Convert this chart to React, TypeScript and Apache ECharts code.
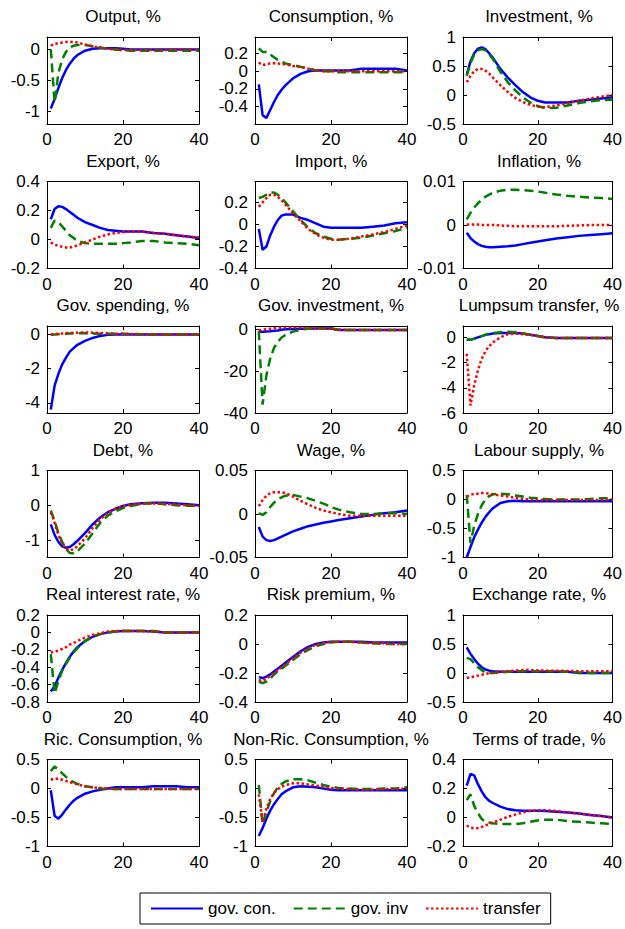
import React, { useEffect, useRef } from "react";
import * as echarts from "echarts";

// ---------- data ----------
const T = [1, 2, 3, 4, 5, 6, 7, 8, 10, 12, 14, 16, 18, 20, 22, 25, 28, 31, 34, 37, 40];
const X_TICKS = [0, 20, 40];
const SERIES_NAMES = ["gov. con.", "gov. inv", "transfer"];

const outputCon = [-0.95, -0.8, -0.62, -0.46, -0.33, -0.23, -0.15, -0.09, -0.02, 0.01, 0.02, 0.02, 0.02, 0.01, 0, 0, 0, 0, 0, 0, 0];
const outputInv = [0, -0.85, -0.38, -0.16, -0.04, 0.03, 0.06, 0.07, 0.07, 0.05, 0.03, 0.01, 0, -0.01, -0.02, -0.02, -0.02, -0.02, -0.02, -0.02, -0.02];
const outputTr = [0.06, 0.09, 0.1, 0.11, 0.12, 0.12, 0.12, 0.11, 0.08, 0.05, 0.03, 0.01, 0, -0.01, -0.01, -0.01, -0.01, -0.01, 0, 0, 0];

const consCon = [-0.15, -0.5, -0.53, -0.44, -0.35, -0.27, -0.21, -0.16, -0.08, -0.03, 0, 0.01, 0.01, 0.01, 0.01, 0.01, 0.03, 0.03, 0.03, 0.03, 0.01];
const consInv = [0.26, 0.22, 0.22, 0.19, 0.16, 0.13, 0.11, 0.09, 0.07, 0.05, 0.03, 0.01, 0, 0, -0.01, -0.01, -0.01, -0.01, -0.01, -0.01, -0.01];
const consTr = [0.1, 0.07, 0.08, 0.09, 0.09, 0.09, 0.08, 0.08, 0.06, 0.05, 0.03, 0.01, 0, 0, 0, 0, 0, 0, 0, 0, 0];

const investCon = [0.35, 0.58, 0.72, 0.8, 0.82, 0.79, 0.72, 0.64, 0.45, 0.3, 0.17, 0.05, -0.04, -0.1, -0.13, -0.13, -0.13, -0.1, -0.08, -0.06, -0.04];
const investInv = [0.33, 0.55, 0.7, 0.77, 0.79, 0.77, 0.7, 0.62, 0.4, 0.22, 0.08, -0.04, -0.13, -0.19, -0.23, -0.22, -0.18, -0.14, -0.11, -0.09, -0.08];
const investTr = [0.22, 0.33, 0.41, 0.45, 0.45, 0.42, 0.37, 0.3, 0.17, 0.05, -0.05, -0.12, -0.17, -0.2, -0.21, -0.18, -0.14, -0.1, -0.06, -0.03, 0];

const exportCon = [0.14, 0.21, 0.23, 0.225, 0.21, 0.19, 0.17, 0.15, 0.12, 0.1, 0.08, 0.065, 0.06, 0.055, 0.055, 0.055, 0.045, 0.04, 0.03, 0.02, 0.01];
const exportInv = [0.08, 0.13, 0.12, 0.09, 0.06, 0.03, 0.01, -0.01, -0.025, -0.03, -0.03, -0.03, -0.03, -0.025, -0.02, -0.01, -0.01, -0.02, -0.025, -0.03, -0.04];
const exportTr = [-0.02, -0.035, -0.045, -0.05, -0.055, -0.055, -0.05, -0.04, -0.02, 0, 0.02, 0.035, 0.045, 0.05, 0.055, 0.055, 0.045, 0.04, 0.03, 0.02, 0.015];

const importCon = [-0.04, -0.23, -0.2, -0.1, -0.02, 0.04, 0.08, 0.09, 0.09, 0.06, 0.04, 0.01, -0.02, -0.03, -0.03, -0.03, -0.03, -0.02, -0.01, 0.01, 0.02];
const importInv = [0.24, 0.25, 0.27, 0.29, 0.29, 0.27, 0.24, 0.2, 0.12, 0.04, -0.03, -0.08, -0.11, -0.13, -0.14, -0.13, -0.12, -0.1, -0.08, -0.06, -0.03];
const importTr = [0.16, 0.2, 0.24, 0.27, 0.27, 0.25, 0.22, 0.18, 0.1, 0.03, -0.04, -0.09, -0.12, -0.14, -0.14, -0.13, -0.11, -0.09, -0.07, -0.04, -0.01];

const inflCon = [-0.0018, -0.003, -0.0038, -0.0044, -0.0048, -0.005, -0.0051, -0.0051, -0.005, -0.0049, -0.0047, -0.0044, -0.0041, -0.0038, -0.0035, -0.0031, -0.0028, -0.0025, -0.0023, -0.0021, -0.0019];
const inflInv = [0.0013, 0.0028, 0.004, 0.005, 0.0058, 0.0065, 0.007, 0.0074, 0.0079, 0.0081, 0.0081, 0.008, 0.0079, 0.0077, 0.0074, 0.007, 0.0067, 0.0065, 0.0063, 0.0062, 0.006];
const inflTr = [0.0001, 0.0001, 0.0001, 0.0001, 0, 0, 0, 0, -0.0001, -0.0002, -0.0003, -0.0003, -0.0003, -0.0003, -0.0003, -0.0003, -0.0002, -0.0001, 0, 0, 0];

const gspCon = [-4.4, -3.0, -2.3, -1.75, -1.35, -1.0, -0.8, -0.6, -0.37, -0.2, -0.08, -0.02, 0, 0, 0, 0, 0, 0, 0, 0, 0];
const gspInv = [-0.02, 0, 0.02, 0.04, 0.05, 0.06, 0.07, 0.07, 0.07, 0.06, 0.05, 0.05, 0.04, 0.04, 0.03, 0.02, 0, 0, 0, 0, 0];
const gspTr = [0, 0.02, 0.04, 0.06, 0.08, 0.09, 0.1, 0.11, 0.12, 0.11, 0.09, 0.07, 0.05, 0.04, 0.03, 0.02, 0.01, 0, 0, 0, 0];

const ginvCon = [-1.2, -1.2, -1.1, -1.0, -0.8, -0.6, -0.3, -0.1, 0.1, 0.2, 0.2, 0.3, 0.3, 0.3, -0.4, -0.4, -0.4, -0.4, -0.4, -0.4, -0.4];
const ginvInv = [-1, -36, -22, -14, -9, -6, -4, -2.8, -1.2, -0.3, 0.2, 0.3, 0.3, 0.3, -0.3, -0.4, -0.4, -0.4, -0.4, -0.4, -0.4];
const ginvTr = [-0.5, -0.3, 0, 0.2, 0.4, 0.6, 0.7, 0.8, 0.8, 0.7, 0.5, 0.4, 0.3, 0.2, -0.3, -0.4, -0.4, -0.4, -0.4, -0.4, -0.4];

const lumpCon = [-0.2, -0.2, -0.1, 0, 0.1, 0.2, 0.25, 0.3, 0.35, 0.35, 0.35, 0.3, 0.2, 0.1, 0, -0.05, -0.05, -0.05, -0.05, -0.05, -0.05];
const lumpInv = [-0.15, -0.2, -0.1, 0, 0.1, 0.2, 0.3, 0.35, 0.4, 0.45, 0.4, 0.3, 0.2, 0.1, 0, -0.05, -0.05, -0.05, -0.05, -0.05, -0.05];
const lumpTr = [-1.3, -5.4, -3.8, -2.6, -1.7, -1.1, -0.7, -0.4, 0, 0.25, 0.3, 0.25, 0.2, 0.1, 0, -0.05, -0.05, -0.05, -0.05, -0.05, -0.05];

const debtCon = [-0.55, -0.85, -1.05, -1.18, -1.22, -1.2, -1.12, -1.02, -0.8, -0.55, -0.35, -0.2, -0.1, -0.02, 0.03, 0.06, 0.07, 0.07, 0.05, 0.03, 0];
const debtInv = [-0.15, -0.45, -0.8, -1.05, -1.25, -1.37, -1.38, -1.32, -1.1, -0.8, -0.5, -0.3, -0.17, -0.08, -0.02, 0.04, 0.06, 0.03, 0, -0.01, -0.01];
const debtTr = [-0.2, -0.5, -0.85, -1.1, -1.25, -1.3, -1.26, -1.18, -0.95, -0.65, -0.4, -0.22, -0.1, -0.03, 0.02, 0.05, 0.05, 0.04, 0.02, 0, -0.01];

const wageCon = [-0.015, -0.026, -0.03, -0.031, -0.03, -0.028, -0.026, -0.024, -0.02, -0.017, -0.014, -0.012, -0.01, -0.0085, -0.007, -0.005, -0.003, -0.001, 0.001, 0.002, 0.004];
const wageInv = [0.001, -0.001, 0.002, 0.008, 0.013, 0.017, 0.019, 0.021, 0.022, 0.02, 0.018, 0.015, 0.012, 0.008, 0.005, 0.002, 0, 0, 0.001, 0.001, 0];
const wageTr = [0.009, 0.016, 0.021, 0.024, 0.025, 0.025, 0.025, 0.024, 0.02, 0.015, 0.011, 0.007, 0.004, 0.002, 0, -0.002, -0.002, -0.002, -0.002, -0.002, -0.002];

const labCon = [-1.0, -0.82, -0.65, -0.52, -0.4, -0.3, -0.22, -0.15, -0.06, -0.03, -0.02, -0.03, -0.03, -0.03, -0.03, -0.03, -0.03, -0.03, -0.03, -0.03, -0.03];
const labInv = [0.08, -0.75, -0.45, -0.25, -0.1, 0, 0.06, 0.09, 0.1, 0.09, 0.07, 0.05, 0.03, 0.02, 0.01, 0, 0, 0, 0.01, 0.02, 0.02];
const labTr = [0.05, 0.08, 0.1, 0.1, 0.11, 0.11, 0.1, 0.09, 0.07, 0.05, 0.03, 0.01, 0, -0.01, -0.01, -0.01, -0.01, -0.01, -0.01, -0.01, 0];

const rirCon = [-0.68, -0.62, -0.52, -0.43, -0.35, -0.28, -0.22, -0.17, -0.1, -0.05, -0.02, 0, 0.01, 0.015, 0.015, 0.015, 0.01, 0, 0, 0, 0];
const rirInv = [-0.25, -0.7, -0.56, -0.44, -0.36, -0.29, -0.23, -0.18, -0.1, -0.05, -0.02, 0, 0.01, 0.015, 0.015, 0.015, 0.015, 0, 0, 0, 0];
const rirTr = [-0.23, -0.22, -0.21, -0.19, -0.17, -0.14, -0.12, -0.1, -0.06, -0.03, -0.01, 0.01, 0.015, 0.015, 0.015, 0.015, 0.01, 0, 0, 0, 0];

const riskCon = [-0.23, -0.235, -0.225, -0.21, -0.19, -0.17, -0.15, -0.13, -0.09, -0.05, -0.02, 0, 0.01, 0.015, 0.015, 0.015, 0.015, 0.01, 0.01, 0.01, 0.01];
const riskInv = [-0.26, -0.27, -0.26, -0.24, -0.21, -0.19, -0.17, -0.15, -0.11, -0.07, -0.04, -0.015, 0, 0.01, 0.015, 0.015, 0.01, 0.005, 0, 0, 0];
const riskTr = [-0.25, -0.255, -0.24, -0.22, -0.2, -0.18, -0.16, -0.14, -0.1, -0.06, -0.03, -0.005, 0.005, 0.015, 0.015, 0.015, 0.01, 0.005, 0.005, 0, 0];

const exchCon = [0.44, 0.33, 0.24, 0.16, 0.1, 0.06, 0.04, 0.03, 0.02, 0.02, 0.02, 0.02, 0.02, 0.02, 0.02, 0.02, 0.02, 0, 0, 0, 0];
const exchInv = [0.26, 0.24, 0.17, 0.1, 0.05, 0.01, 0, 0, 0.01, 0.02, 0.03, 0.03, 0.03, 0.03, 0.03, 0.03, 0.02, 0.01, 0, 0, 0];
const exchTr = [-0.085, -0.075, -0.06, -0.045, -0.03, -0.015, -0.005, 0.005, 0.02, 0.03, 0.04, 0.05, 0.05, 0.045, 0.04, 0.04, 0.035, 0.03, 0.03, 0.03, 0.03];

const ricCon = [-0.03, -0.47, -0.52, -0.45, -0.36, -0.28, -0.21, -0.16, -0.09, -0.05, -0.02, 0, 0.02, 0.02, 0.02, 0.02, 0.04, 0.04, 0.04, 0.02, 0.02];
const ricInv = [0.3, 0.38, 0.33, 0.26, 0.2, 0.15, 0.11, 0.08, 0.04, 0.02, 0, -0.01, -0.01, -0.01, -0.01, -0.01, -0.01, -0.01, -0.01, -0.01, -0.01];
const ricTr = [0.15, 0.17, 0.17, 0.15, 0.13, 0.11, 0.09, 0.07, 0.04, 0.02, 0.01, 0, -0.01, -0.01, -0.01, -0.01, -0.01, -0.01, -0.01, -0.01, -0.01];

const nricCon = [-0.82, -0.68, -0.52, -0.38, -0.27, -0.18, -0.1, -0.05, 0.02, 0.04, 0.03, 0.02, 0, -0.02, -0.03, -0.03, -0.03, -0.03, -0.03, -0.03, -0.03];
const nricInv = [0.06, -0.62, -0.4, -0.22, -0.08, 0.02, 0.08, 0.12, 0.16, 0.16, 0.14, 0.1, 0.06, 0.03, 0.01, 0, -0.01, -0.01, 0, 0, 0.02];
const nricTr = [-0.1, -0.58, -0.35, -0.18, -0.08, -0.01, 0.03, 0.06, 0.09, 0.09, 0.07, 0.05, 0.03, 0.01, 0, -0.01, -0.02, -0.02, -0.01, -0.01, 0];

const totCon = [0.22, 0.3, 0.29, 0.23, 0.18, 0.14, 0.115, 0.1, 0.075, 0.058, 0.05, 0.046, 0.046, 0.046, 0.045, 0.04, 0.035, 0.028, 0.018, 0.01, 0];
const totInv = [0.12, 0.16, 0.08, 0.03, -0.01, -0.03, -0.035, -0.04, -0.045, -0.045, -0.045, -0.04, -0.03, -0.02, -0.015, -0.015, -0.025, -0.03, -0.035, -0.04, -0.045];
const totTr = [-0.055, -0.07, -0.075, -0.073, -0.065, -0.055, -0.045, -0.035, -0.015, 0.005, 0.02, 0.035, 0.045, 0.05, 0.05, 0.045, 0.035, 0.028, 0.018, 0.01, 0];

const TITLES = [
  "Output, %", "Consumption, %", "Investment, %",
  "Export, %", "Import, %", "Inflation, %",
  "Gov. spending, %", "Gov. investment, %", "Lumpsum transfer, %",
  "Debt, %", "Wage, %", "Labour supply, %",
  "Real interest rate, %", "Risk premium, %", "Exchange rate, %",
  "Ric. Consumption, %", "Non-Ric. Consumption, %", "Terms of trade, %",
];
const Y_MIN = [-1.2, -0.6, -0.5, -0.2, -0.4, -0.01, -4.6, -40, -6, -1.5, -0.05, -1, -0.8, -0.4, -0.5, -1, -1, -0.2];
const Y_MAX = [0.2, 0.39, 1, 0.4, 0.39, 0.01, 0.5, 1.5, 0.9, 1, 0.05, 0.5, 0.2, 0.2, 1, 0.5, 0.5, 0.4];
const Y_TICKS = [
  [-1, -0.5, 0], [-0.4, -0.2, 0, 0.2], [-0.5, 0, 0.5, 1],
  [-0.2, 0, 0.2, 0.4], [-0.4, -0.2, 0, 0.2], [-0.01, 0, 0.01],
  [-4, -2, 0], [-40, -20, 0], [-6, -4, -2, 0],
  [-1, 0, 1], [-0.05, 0, 0.05], [-1, -0.5, 0, 0.5],
  [-0.8, -0.6, -0.4, -0.2, 0, 0.2], [-0.4, -0.2, 0, 0.2], [-0.5, 0, 0.5, 1],
  [-1, -0.5, 0, 0.5], [-1, -0.5, 0, 0.5], [-0.2, 0, 0.2, 0.4],
];
const CON = [outputCon, consCon, investCon, exportCon, importCon, inflCon, gspCon, ginvCon, lumpCon, debtCon, wageCon, labCon, rirCon, riskCon, exchCon, ricCon, nricCon, totCon];
const INV = [outputInv, consInv, investInv, exportInv, importInv, inflInv, gspInv, ginvInv, lumpInv, debtInv, wageInv, labInv, rirInv, riskInv, exchInv, ricInv, nricInv, totInv];
const TR = [outputTr, consTr, investTr, exportTr, importTr, inflTr, gspTr, ginvTr, lumpTr, debtTr, wageTr, labTr, rirTr, riskTr, exchTr, ricTr, nricTr, totTr];

// ---------- layout / style ----------
const FONT = "'Liberation Sans', Arial, Helvetica, sans-serif";
const FS = 17;
const COL_LEFT = [47, 255, 463];
const ROW_TOP0 = 37;
const ROW_STEP = 144.5;
const PLOT_W = 152;
const PLOT_H = 87;

const LINE_STYLES = [
  { color: "#0000ff", width: 2.5, type: "solid" },
  { color: "#008000", width: 2.5, type: [9, 5] },
  { color: "#ff0000", width: 2.5, type: [2.5, 2.5] },
];

function buildOption() {
  const grid: any[] = [];
  const xAxis: any[] = [];
  const yAxis: any[] = [];
  const series: any[] = [];
  const title: any[] = [];
  const axisLine = { show: true, onZero: false, lineStyle: { color: "#000", width: 1 } };
  const labelStyle = { color: "#000", fontSize: FS, fontFamily: FONT };

  TITLES.forEach((name, i) => {
    const r = Math.floor(i / 3);
    const c = i % 3;
    const left = COL_LEFT[c];
    const top = ROW_TOP0 + r * ROW_STEP;
    grid.push({ left, top, width: PLOT_W, height: PLOT_H, containLabel: false });
    title.push({
      text: name,
      left: left + PLOT_W / 2,
      top: top - 29,
      textAlign: "center",
      padding: 0,
      textStyle: { ...labelStyle, fontWeight: "normal", lineHeight: FS },
    });
    const ticks = Y_TICKS[i];
    const xBase = {
      gridIndex: i, type: "value", min: 0, max: 40,
      axisLine, splitLine: { show: false },
      axisTick: { show: true, inside: true, length: 4, customValues: X_TICKS, lineStyle: { color: "#000" } },
    };
    xAxis.push({ ...xBase, position: "bottom", axisLabel: { show: true, customValues: X_TICKS, margin: 7, ...labelStyle } });
    xAxis.push({ ...xBase, position: "top", axisLabel: { show: false } });
    const yBase = {
      gridIndex: i, type: "value", min: Y_MIN[i], max: Y_MAX[i], scale: false,
      axisLine, splitLine: { show: false },
      axisTick: { show: true, inside: true, length: 4, customValues: ticks, lineStyle: { color: "#000" } },
    };
    yAxis.push({
      ...yBase, position: "left",
      axisLabel: { show: true, customValues: ticks, margin: 7, formatter: (v: number) => String(v), ...labelStyle },
    });
    yAxis.push({ ...yBase, position: "right", axisLabel: { show: false } });

    [CON[i], INV[i], TR[i]].forEach((vals, s) => {
      series.push({
        type: "line",
        name: SERIES_NAMES[s],
        xAxisIndex: 2 * i,
        yAxisIndex: 2 * i,
        data: T.map((t, k) => [t, vals[k]]),
        symbol: "none",
        showSymbol: false,
        lineStyle: LINE_STYLES[s],
        itemStyle: { color: LINE_STYLES[s].color },
        emphasis: { disabled: true },
        silent: true,
        z: 2 + s,
      });
    });
  });

  return {
    animation: false,
    backgroundColor: "#ffffff",
    title,
    grid,
    xAxis,
    yAxis,
    series,
    legend: {
      data: SERIES_NAMES,
      left: 140,
      top: 893,
      orient: "horizontal",
      itemWidth: 52,
      itemHeight: 12,
      itemGap: 17,
      padding: [7, 10, 7, 10],
      borderColor: "#000",
      borderWidth: 1,
      selectedMode: false,
      itemStyle: { opacity: 0 },
      textStyle: labelStyle,
    },
  };
}

export default function App() {
  const ref = useRef<HTMLDivElement>(null);
  useEffect(() => {
    if (!ref.current) return;
    const chart = echarts.init(ref.current, undefined, { renderer: "svg" });
    chart.setOption(buildOption() as any);
    return () => chart.dispose();
  }, []);
  return (
    <div
      ref={ref}
      style={{ position: "absolute", left: 0, top: 0, width: 625, height: 929, background: "#fff" }}
    />
  );
}
